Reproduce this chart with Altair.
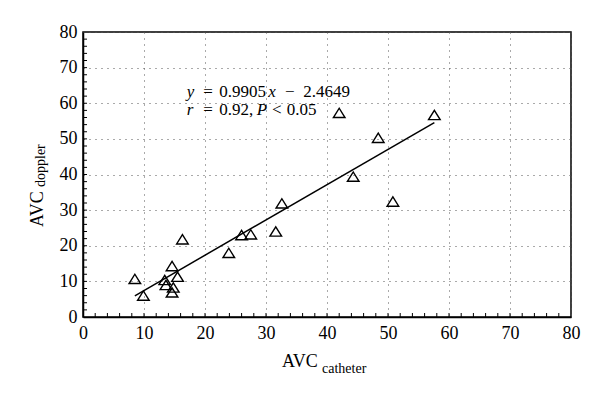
import altair as alt
import pandas as pd

# data
catheter = [8.5, 9.9, 13.4, 13.6, 14.6, 14.8, 14.6, 15.5, 16.3, 23.9, 26.0, 27.5,
            31.6, 32.6, 44.3, 42.0, 48.4, 57.6, 50.8]
doppler = [10.7, 6.0, 10.4, 9.0, 14.3, 8.3, 6.9, 11.3, 21.8, 18.0, 23.0, 23.2,
           24.0, 31.9, 39.4, 57.3, 50.3, 56.7, 32.4]
slope = 0.9905
intercept = -2.4649
fit_x = [8.5, 57.6]
major_ticks = list(range(0, 81, 10))
minor_ticks = list(range(2, 80, 2))

eq_text = ["y", "=", "0.9905", "x", "\u2212", "2.4649",
           "r", "=", "0.92,", "P", "<", "0.05"]
eq_x = [17.0, 19.72, 22.34, 30.38, 33.11, 36.11,
        17.0, 19.72, 22.34, 28.5, 31.0, 33.4]
eq_y = [61.75] * 6 + [56.84] * 6
eq_italic = [True, False, False, True, False, False,
             True, False, False, True, False, False]

FONT = "Liberation Serif"

pts = pd.DataFrame({"c": catheter, "d": doppler})
fit = pd.DataFrame({"c": fit_x, "d": [slope * v + intercept for v in fit_x]})
minor = pd.DataFrame({"v": minor_ticks})
eq = pd.DataFrame({"t": eq_text, "x": eq_x, "y": eq_y, "it": eq_italic})

xs = alt.Scale(domain=[0, 80], nice=False, zero=False)
ys = alt.Scale(domain=[0, 80], nice=False, zero=False)
xax = alt.Axis(values=major_ticks, title=None, labelPadding=7, tickSize=0,
               labelOverlap=False, labelFlush=False)
yax = alt.Axis(values=major_ticks, title=None, labelPadding=6, tickSize=0,
               labelOverlap=False, labelFlush=False)

tri = "M-1,0.8L1,0.8L0,-0.8Z"

points = alt.Chart(pts).mark_point(shape=tri, size=135, filled=False, color="black",
                                   strokeWidth=1.4, opacity=1).encode(
    x=alt.X("c:Q", scale=xs, axis=xax),
    y=alt.Y("d:Q", scale=ys, axis=yax),
)

line = alt.Chart(fit).mark_line(color="black", strokeWidth=1.5).encode(
    x=alt.X("c:Q", scale=xs, axis=xax),
    y=alt.Y("d:Q", scale=ys, axis=yax),
)

xticks = alt.Chart(minor).mark_rule(color="black", strokeWidth=1).encode(
    x=alt.X("v:Q", scale=xs, axis=xax),
    y=alt.YDatum(0, scale=ys, axis=yax),
    y2=alt.Y2Datum(1.12),
)

yticks = alt.Chart(minor).mark_rule(color="black", strokeWidth=1).encode(
    y=alt.Y("v:Q", scale=ys, axis=yax),
    x=alt.XDatum(0, scale=xs, axis=xax),
    x2=alt.X2Datum(0.66),
)

eq_norm = alt.Chart(eq).transform_filter("!datum.it").mark_text(
    font=FONT, fontSize=17, align="left", baseline="alphabetic", color="black"
).encode(
    x=alt.X("x:Q", scale=xs, axis=xax),
    y=alt.Y("y:Q", scale=ys, axis=yax),
    text="t:N",
)
eq_it = alt.Chart(eq).transform_filter("datum.it").mark_text(
    font=FONT, fontSize=17, fontStyle="italic", align="left", baseline="alphabetic",
    color="black"
).encode(
    x=alt.X("x:Q", scale=xs, axis=xax),
    y=alt.Y("y:Q", scale=ys, axis=yax),
    text="t:N",
)

def label(txt, size, px, py, angle=0):
    return alt.Chart(pd.DataFrame({"t": [txt]})).mark_text(
        font=FONT, fontSize=size, align="left", baseline="alphabetic",
        color="black", angle=angle
    ).encode(x=alt.value(px), y=alt.value(py), text="t:N")

titles = [
    label("AVC", 18, 199, 334.7),
    label("catheter", 14, 239, 340.7),
    label("AVC", 18, -39.7, 195, 270),
    label("doppler", 14, -38, 155, 270),
]

chart = alt.layer(line, xticks, yticks, points, eq_norm, eq_it, *titles).properties(
    width=488, height=285,
    padding={"left": 75, "top": 24, "right": 21, "bottom": 72},
    autosize=alt.AutoSizeParams(type="none"),
).configure_view(
    stroke="black", strokeWidth=1.5
).configure_axis(
    domainColor="black", domainWidth=1.5,
    labelFont=FONT, labelFontSize=18, labelColor="black",
    grid=True, gridColor="#555", gridDash=[1, 5], gridWidth=1, gridOpacity=1,
)

chart.save("out.html", embed_options={"renderer": "svg", "actions": False})
